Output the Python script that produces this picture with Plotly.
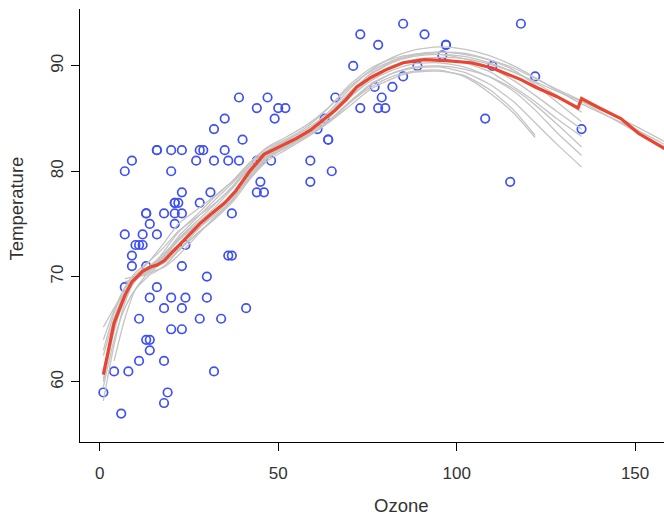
import plotly.graph_objects as go

# Daily ozone (ppb) and max temperature (F), complete ozone readings
ozone = [41, 36, 12, 18, 28, 23, 19, 8, 7, 16, 11, 14, 18, 14, 34, 6, 30, 11, 1, 11, 4, 32, 23, 45, 115, 37,
         29, 71, 39, 23, 21, 37, 20, 12, 13,
         135, 49, 32, 64, 40, 77, 97, 97, 85, 10, 27, 7, 48, 35, 61, 79, 63, 16, 80, 108, 20, 52, 82, 50, 64, 59,
         39, 9, 16, 78, 35, 66, 122, 89, 110, 44, 28, 65, 22, 59, 23, 31, 44, 21, 9, 45, 168, 73, 76, 118, 84, 85,
         96, 78, 73, 91, 47, 32, 20, 23, 21, 24, 44, 21, 28, 9, 13, 46, 18, 13, 24, 16, 13, 23, 36, 7, 14, 30, 14, 18, 20]
temp = [67, 72, 74, 62, 66, 65, 59, 61, 74, 69, 66, 68, 58, 64, 66, 57, 68, 62, 59, 73, 61, 61, 67, 81, 79, 76,
        82, 90, 87, 82, 77, 72, 65, 73, 76,
        84, 85, 81, 83, 83, 88, 92, 92, 89, 73, 81, 80, 81, 82, 84, 87, 85, 74, 86, 85, 82, 86, 88, 86, 83, 81,
        81, 81, 82, 86, 85, 87, 89, 90, 90, 86, 82, 80, 77, 79, 76, 78, 78, 77, 72, 79, 81, 86, 97, 94, 96, 94,
        91, 92, 93, 93, 87, 84, 80, 78, 75, 73, 81, 76, 77, 71, 71, 78, 67, 76, 68, 82, 64, 71, 81, 69, 63, 70, 75, 76, 68]

# Bootstrap smooth curves, sampled on a common ozone grid (None = outside that resample's range)
grid = [1, 4, 7, 10, 14, 18, 22, 27, 32, 37, 42, 47, 52, 58, 64, 70, 76, 82, 88, 95, 102, 109, 116, 122, 128, 135, 150, 168]
boot_curves = [
    [58.2, 63.5, 67.5, 69.8, 71.0, 72.0, 73.5, 75.0, 76.5, 78.3, 80.3, 81.7, 82.6, 83.8, 85.4, 87.5, 89.2, 90.3, 90.9, 91.1, 90.9, 90.3, 89.4, 88.4, 87.2, 85.6, None, None],
    [65.2, 67.0, 68.5, 69.8, 71.0, 72.2, 73.6, 75.2, 76.8, 78.5, 80.5, 82.0, 82.9, 84.0, 85.6, 87.8, 89.6, 90.8, 91.5, 91.8, 91.6, 91.0, 90.0, 88.9, 87.7, 86.4, 84.0, 80.8],
    [59.5, 64.0, 67.0, 68.8, 70.2, 71.8, 73.4, 74.8, 76.0, 77.5, 79.3, 81.0, 82.0, 83.2, 84.6, 86.5, 88.2, 89.3, 89.9, 90.0, 89.7, 89.0, 87.8, 86.3, 84.5, 82.3, None, None],
    [None, None, 69.5, 69.8, 70.5, 72.0, 73.8, 75.5, 77.2, 78.8, 80.6, 82.0, 82.8, 83.8, 85.2, 87.0, 88.6, 89.6, 90.2, 90.3, 89.9, 89.0, 87.6, 85.8, 83.7, 81.5, None, None],
    [60.0, 64.8, 68.0, 70.0, 71.5, 73.2, 75.0, 76.3, 77.6, 79.0, 80.8, 82.2, 83.0, 84.2, 86.0, 88.2, 89.8, 90.7, 91.1, 91.1, 90.7, 89.9, 88.6, 87.2, 85.7, 84.0, None, None],
    [62.5, 66.0, 68.6, 70.2, 71.0, 71.8, 72.6, 74.0, 75.4, 77.0, 79.2, 81.2, 82.2, 83.3, 84.7, 86.6, 88.3, 89.3, 89.8, 89.9, 89.4, 88.3, 86.6, 84.6, 82.6, 80.4, None, None],
    [61.0, 65.0, 67.8, 69.6, 70.8, 71.9, 73.0, 74.4, 75.8, 77.4, 79.6, 81.5, 82.4, 83.5, 84.8, 86.5, 88.0, 89.0, 89.5, 89.6, 89.0, 87.5, 85.5, 83.2, None, None, None, None],
    [63.0, 66.5, 69.0, 70.4, 71.5, 72.8, 74.3, 75.6, 76.9, 78.4, 80.2, 81.6, 82.4, 83.4, 84.6, 86.2, 87.8, 88.8, 89.4, 89.5, 89.1, 87.8, 85.8, 83.4, None, None, None, None],
    [60.3, 65.2, 68.3, 69.9, 70.6, 71.3, 72.5, 74.3, 76.0, 77.6, 79.8, 81.5, 82.3, 83.5, 85.0, 87.0, 88.9, 90.0, 90.6, 90.8, 90.7, 90.2, 89.4, 88.5, 87.6, 86.6, 83.8, 80.6],
    [64.0, 66.8, 68.9, 70.0, 70.4, 70.9, 72.0, 73.8, 75.6, 77.2, 79.4, 81.3, 82.3, 83.6, 85.3, 87.4, 89.3, 90.4, 91.0, 91.3, 91.2, 90.6, 89.6, 88.2, 86.6, 84.7, None, None],
    [None, None, 69.8, 70.0, 70.2, 71.0, 72.4, 74.0, 75.5, 77.2, 79.5, 81.4, 82.4, 83.6, 85.2, 87.3, 89.0, 90.0, 90.5, 90.6, 90.3, 89.5, 88.0, 86.6, 85.0, 83.3, None, None],
    [None, 62.0, 66.0, 68.8, 70.6, 72.4, 74.2, 75.8, 77.5, 79.0, 80.8, 82.3, 83.2, 84.4, 86.0, 88.0, 89.5, 90.5, 91.1, 91.3, 91.1, 90.6, 89.8, 88.8, 87.8, 86.7, 84.3, 81.0],
]

# Averaged smooth across resamples
fit_ozone = [1, 4, 7, 9, 12, 14, 16, 18, 20, 22, 24, 28, 31, 35, 38, 42, 46, 50, 55, 59, 63, 66, 69, 72, 76, 80,
             85, 91, 97, 104, 110, 115, 118, 122, 128, 134, 135, 140, 146, 151, 158, 168]
fit_temp = [60.7, 65.6, 68.2, 69.5, 70.5, 70.9, 71.1, 71.5, 72.2, 72.9, 73.6, 75.0, 75.9, 77.0, 78.1, 80.0, 81.6, 82.3,
            83.1, 83.9, 85.0, 85.8, 86.8, 88.0, 88.9, 89.6, 90.3, 90.6, 90.5, 90.3, 89.8, 89.1, 88.7, 88.0, 87.1,
            86.0, 86.9, 86.0, 85.0, 83.6, 82.2, 80.6]

fig = go.Figure()

fig.add_trace(go.Scatter(
    x=ozone, y=temp, mode="markers",
    marker=dict(symbol="circle-open", size=8.5, color="#3f50f5", line=dict(width=1.7, color="#3f50f5")),
    hoverinfo="skip", showlegend=False,
))

for curve in boot_curves:
    fig.add_trace(go.Scatter(
        x=grid, y=curve, mode="lines", line=dict(color="#c4c4c4", width=1.3, shape="spline", smoothing=0.6),
        connectgaps=False, hoverinfo="skip", showlegend=False,
    ))

fig.add_trace(go.Scatter(
    x=fit_ozone, y=fit_temp, mode="lines", line=dict(color="#ea4530", width=3.2),
    hoverinfo="skip", showlegend=False,
))

title_font = dict(family="Liberation Sans, Arial, sans-serif", size=18.5, color="#333333")
tick_font = dict(family="Liberation Sans, Arial, sans-serif", size=17, color="#333333")

fig.update_layout(
    width=664, height=520,
    margin=dict(l=80, r=0, t=9, b=78),
    paper_bgcolor="white", plot_bgcolor="white",
    font=tick_font,
    xaxis=dict(
        range=[-5.55, 158.1], tickvals=[0, 50, 100, 150], showgrid=False, zeroline=False,
        showline=True, linecolor="black", linewidth=1, ticks="outside", ticklen=8,
        tickcolor="black", tickfont=tick_font, ticklabelstandoff=8,
    ),
    yaxis=dict(
        range=[54.3, 95.4], tickvals=[60, 70, 80, 90], showgrid=False, zeroline=False,
        showline=True, linecolor="black", linewidth=1, ticks="outside", ticklen=8,
        tickcolor="black", tickfont=tick_font, tickangle=-90, ticklabelstandoff=1,
    ),
    annotations=[
        dict(text="Temperature", xref="paper", yref="paper", x=-0.109, y=0.540,
             textangle=-90, showarrow=False, font=title_font, xanchor="center", yanchor="middle"),
        dict(text="Ozone", xref="paper", yref="paper", x=0.550, y=-0.146,
             showarrow=False, font=title_font, xanchor="center", yanchor="middle"),
    ],
)

fig.write_html("out.html")
